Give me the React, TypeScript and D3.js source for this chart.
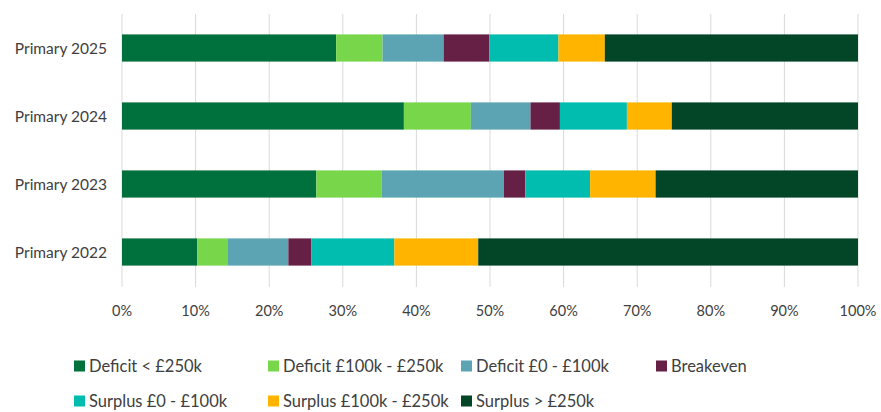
import React from "react";
import * as d3 from "d3";

const categories = ["Primary 2025", "Primary 2024", "Primary 2023", "Primary 2022"];

const seriesNames = [
  "Deficit < £250k",
  "Deficit £100k - £250k",
  "Deficit £0 - £100k",
  "Breakeven",
  "Surplus £0 - £100k",
  "Surplus £100k - £250k",
  "Surplus > £250k",
];

const seriesColors = ["#00703C", "#78D64B", "#5CA4B3", "#662046", "#00BDB0", "#FFB500", "#034527"];

// Share of schools (%) per band, one array per year, in series order
const values2025 = [29.1, 6.3, 8.3, 6.2, 9.4, 6.3, 34.4];
const values2024 = [38.3, 9.1, 8.1, 4.0, 9.1, 6.1, 25.3];
const values2023 = [26.4, 8.9, 16.6, 2.9, 8.8, 8.9, 27.5];
const values2022 = [10.2, 4.2, 8.2, 3.1, 11.3, 11.4, 51.6];

const xTicks = [0, 10, 20, 30, 40, 50, 60, 70, 80, 90, 100];

const W = 881;
const H = 412;
const margin = { left: 122, right: 23, top: 14, bottom: 126 };

export default function App() {
  const rows = [values2025, values2024, values2023, values2022];
  const x = d3.scaleLinear().domain([0, 100]).range([margin.left, W - margin.right]);
  const y = d3
    .scaleBand<string>()
    .domain(categories)
    .range([margin.top, H - margin.bottom])
    .paddingInner(0.6)
    .paddingOuter(0.3);

  const table = categories.map((c, i) => {
    const o: Record<string, any> = { cat: c };
    seriesNames.forEach((s, j) => (o[s] = rows[i][j]));
    return o;
  });
  const stacked = d3.stack<any>().keys(seriesNames)(table);

  const font = "Lato, 'Open Sans', sans-serif";
  const textColor = "#404040";

  const legendRows = [
    [0, 1, 2, 3],
    [4, 5, 6],
  ];
  const legendX = [74, 268, 461, 656];
  const legendY = [366, 401];

  return (
    <svg width={W} height={H} style={{ position: "absolute", left: 0, top: 0, background: "#fff" }}>
      {xTicks.map((t) => (
        <line
          key={"g" + t}
          x1={x(t)}
          x2={x(t)}
          y1={margin.top}
          y2={H - margin.bottom + 1}
          stroke="#d9d9d9"
          strokeWidth={1}
        />
      ))}
      {stacked.map((layer, si) =>
        layer.map((d, ci) => (
          <rect
            key={si + "-" + ci}
            x={x(d[0])}
            width={x(d[1]) - x(d[0])}
            y={y(categories[ci])}
            height={y.bandwidth()}
            fill={seriesColors[si]}
          />
        ))
      )}
      {categories.map((c) => (
        <text
          key={c}
          x={107}
          y={(y(c) as number) + y.bandwidth() / 2}
          textAnchor="end"
          dominantBaseline="central"
          fontFamily={font}
          fontSize={15.5}
          fill={textColor}
        >
          {c}
        </text>
      ))}
      {xTicks.map((t) => (
        <text
          key={"t" + t}
          x={x(t)}
          y={310}
          textAnchor="middle"
          dominantBaseline="central"
          fontFamily={font}
          fontSize={14.5}
          fill={textColor}
        >
          {t + "%"}
        </text>
      ))}
      {legendRows.map((row, ri) =>
        row.map((si, k) => (
          <g key={"l" + si} transform={`translate(${legendX[k]},${legendY[ri]})`}>
            <rect x={0} y={-5.5} width={11} height={11} fill={seriesColors[si]} />
            <text
              x={15}
              y={0}
              dominantBaseline="central"
              fontFamily={font}
              fontSize={16.5}
              fill={textColor}
            >
              {seriesNames[si]}
            </text>
          </g>
        ))
      )}
    </svg>
  );
}
